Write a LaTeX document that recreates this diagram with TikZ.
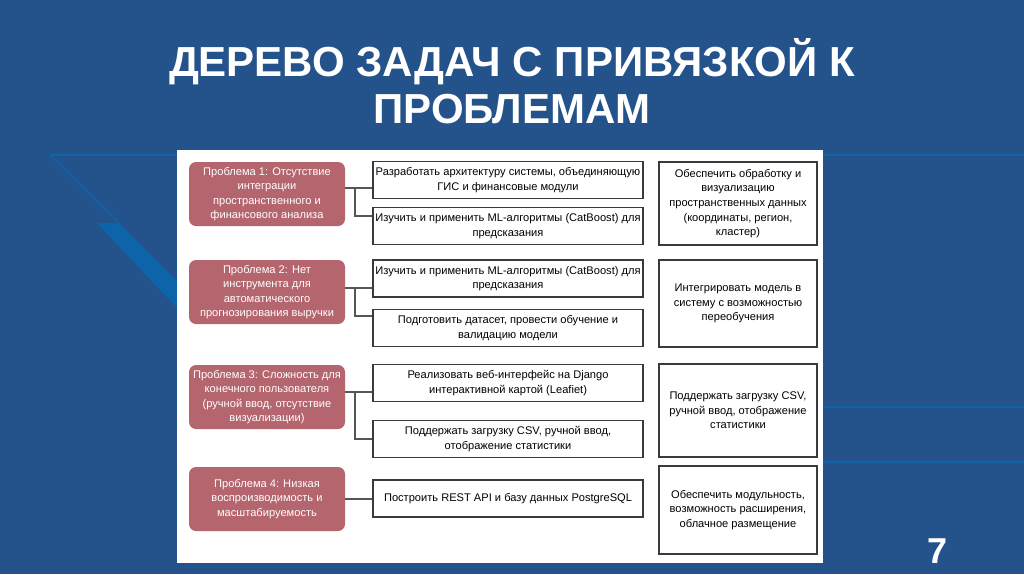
\documentclass[tikz,border=0pt]{standalone}
\usepackage{fontspec}
\setmainfont{Liberation Sans}
\usepackage{xcolor}
\usetikzlibrary{positioning}
\definecolor{SlideBlue}{HTML}{24528A}
\definecolor{SlideAccent}{HTML}{0D64A8}
\definecolor{ProblemRose}{HTML}{B5656E}
\definecolor{BoxLine}{HTML}{3A3A3A}
\definecolor{LinkGray}{HTML}{555555}

\begin{document}
\begin{tikzpicture}[
  x=1pt, y=-1pt,
  titletext/.style={text=white, anchor=base, inner sep=0pt,
    font=\fontsize{42}{47}\selectfont\bfseries},
  probbox/.style={
    fill=ProblemRose,
    rounded corners=7pt,
    text=white,
    align=center,
    minimum width=156pt,
    minimum height=64pt,
    inner sep=1pt,
    font=\fontsize{11.1}{14.2}\selectfont
  },
  taskbox/.style={
    draw=BoxLine,
    line width=1.2pt,
    fill=white,
    align=center,
    minimum width=270pt,
    minimum height=37pt,
    inner sep=1pt,
    font=\fontsize{11.1}{14.6}\selectfont
  },
  goalbox/.style={taskbox, minimum width=158pt},
  branch/.style={draw=LinkGray, line width=1.2pt}
]
\useasboundingbox (0,0) rectangle (1024,574);
% slide background and accent strokes
\fill[SlideBlue] (0,0) rectangle (1024,574);
\draw[SlideAccent, line width=2pt] (50,155) -- (177,155);
\draw[SlideAccent, line width=1.5pt] (50,155) -- (119,223);
\fill[SlideAccent] (97,223) -- (119,223) -- (177,281) -- (177,308) -- cycle;
\draw[SlideAccent, line width=2pt] (823,155) -- (1024,155);
\draw[SlideAccent, line width=2pt] (823,407) -- (1024,407);
\draw[SlideAccent, line width=2pt] (823,462) -- (1024,462);
\fill[white] (177,150) rectangle (823,563);

\node[titletext] (title) at (512,76) {ДЕРЕВО ЗАДАЧ С ПРИВЯЗКОЙ К};
\node[titletext] (titletwo) at (512,123) {ПРОБЛЕМАМ};
\node[text=white, anchor=base, inner sep=0pt, font=\fontsize{36}{40}\selectfont\bfseries] (pagenum) at (937,563) {7};

% problems
\node[probbox] (p1) at (267,194) {Проблема 1: Отсутствие\\интеграции\\пространственного и\\финансового анализа};
\node[probbox] (p2) at (267,292) {Проблема 2: Нет\\инструмента для\\автоматического\\прогнозирования выручки};
\node[probbox] (p3) at (267,397) {Проблема 3: Сложность для\\конечного пользователя\\(ручной ввод, отсутствие\\визуализации)};
\node[probbox] (p4) at (267,499) {Проблема 4: Низкая\\воспроизводимость и\\масштабируемость};

% tasks
\node[taskbox] (m1) at (508,180) {Разработать архитектуру системы, объединяющую\\ГИС и финансовые модули};
\node[taskbox] (m2) at (508,226) {Изучить и применить ML-алгоритмы (CatBoost) для\\предсказания};
\node[taskbox] (m3) at (508,278.5) {Изучить и применить ML-алгоритмы (CatBoost) для\\предсказания};
\node[taskbox] (m4) at (508,328) {Подготовить датасет, провести обучение и\\валидацию модели};
\node[taskbox] (m5) at (508,383) {Реализовать веб-интерфейс на Django\\интерактивной картой (Leafiet)};
\node[taskbox] (m6) at (508,439) {Поддержать загрузку CSV, ручной ввод,\\отображение статистики};
\node[taskbox] (m7) at (508,498.5) {Построить REST API и базу данных PostgreSQL};

% goals
\node[goalbox, minimum height=83pt] (r1) at (738,203.5) {Обеспечить обработку и\\визуализацию\\пространственных данных\\(координаты, регион,\\кластер)};
\node[goalbox, minimum height=87pt] (r2) at (738,303.5) {Интегрировать модель в\\систему с возможностью\\переобучения};
\node[goalbox, minimum height=93pt] (r3) at (738,410.5) {Поддержать загрузку CSV,\\ручной ввод, отображение\\статистики};
\node[goalbox, minimum height=88pt] (r4) at (738,510) {Обеспечить модульность,\\возможность расширения,\\облачное размещение};

% links
\coordinate (j1) at (355,188);
\coordinate (j2) at (355,288);
\coordinate (j3) at (355,392);
\draw[branch] (p1.east |- j1) -- (m1.west |- j1);
\draw[branch] (j1) |- ([yshift=10pt]m2.west);
\draw[branch] (p2.east |- j2) -- (m3.west |- j2);
\draw[branch] (j2) |- ([yshift=12pt]m4.west);
\draw[branch] (p3.east |- j3) -- (m5.west |- j3);
\draw[branch] (j3) |- (m6.west);
\draw[branch] (p4.east) -- (m7.west |- p4.east);
\end{tikzpicture}
\end{document}
